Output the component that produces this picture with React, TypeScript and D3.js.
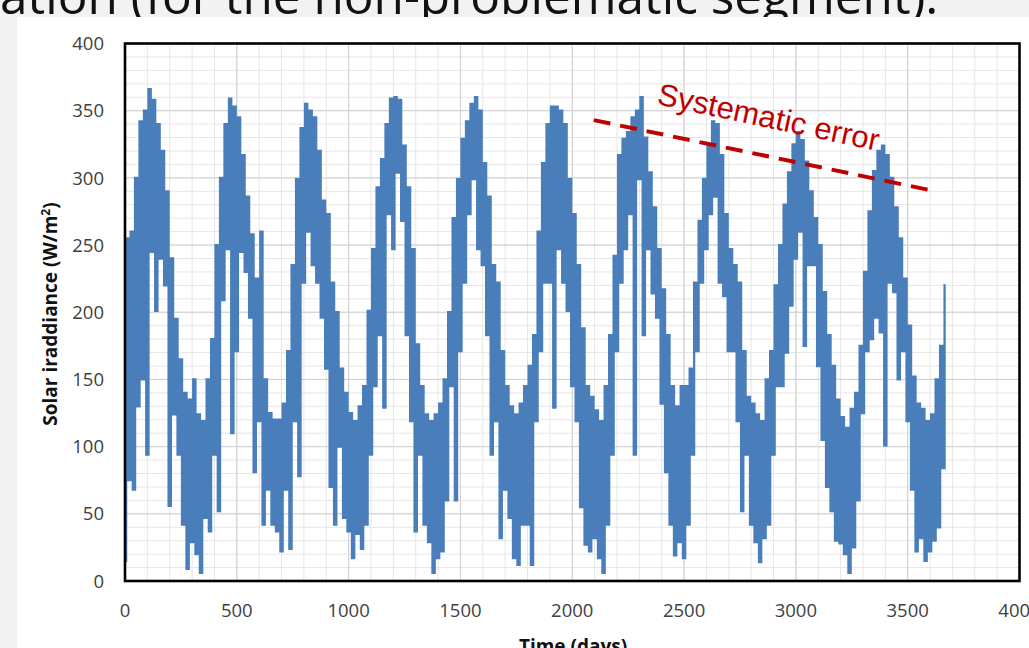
import React from 'react';
import * as d3 from 'd3';

const STEP_DAYS = 10;
// days 0 – 360
const seg01 = [15,255,75,260,68,300,130,342,150,350,94,366,245,358,201,340,240,320,220,290,56,240,124,195,94,165,42,140,9,135,29,150,20,124,6,119,47];
// days 370 – 730
const seg02 = [150,37,180,94,250,52,300,209,340,247,359,110,353,171,345,245,317,230,286,196,258,81,225,119,260,42,150,68,125,42,120,37,120,22,132,68,171];
// days 740 – 1100
const seg03 = [24,235,119,299,78,337,222,355,260,350,235,345,222,320,196,283,158,273,70,222,42,200,100,158,47,140,37,125,17,119,35,130,24,145,42,201,94];
// days 1110 – 1470
const seg04 = [247,145,293,183,314,129,340,273,359,247,360,304,358,268,324,183,293,119,247,37,176,94,145,42,124,29,119,6,124,17,132,22,150,60,200,145,270];
// days 1480 – 1840
const seg05 = [60,299,171,329,222,342,273,355,299,360,247,350,235,311,183,286,94,235,119,222,32,171,68,145,47,130,17,124,12,132,42,145,42,160,12,183,119];
// days 1850 – 2210
const seg06 = [260,171,311,222,340,222,353,129,353,247,350,222,340,201,299,145,273,119,235,55,188,27,145,22,137,32,127,17,119,6,145,42,183,94,242,171,317];
// days 2220 – 2580
const seg07 = [222,329,247,334,273,345,94,350,299,360,183,330,247,304,214,278,196,247,132,217,81,183,42,145,19,130,29,145,17,145,42,158,94,222,171,268,222];
// days 2590 – 2950
const seg08 = [299,247,324,273,342,286,340,222,317,212,273,171,247,171,235,119,222,52,171,94,137,42,132,29,124,14,119,32,150,42,171,94,220,145,250,145,280];
// days 2960 – 3320
const seg09 = [170,304,205,325,240,334,260,328,175,312,235,290,235,270,160,250,105,215,70,183,52,160,30,135,28,122,20,114,6,128,25,140,60,175,125,230,171];
// days 3330 – 3670
const seg10 = [275,180,305,196,320,185,324,101,317,222,300,215,278,150,255,171,225,119,190,68,152,22,132,32,128,15,119,22,124,30,150,40,175,84,220];

const irradiance = [...seg01, ...seg02, ...seg03, ...seg04, ...seg05, ...seg06, ...seg07, ...seg08, ...seg09, ...seg10];

const xTicks = [0, 500, 1000, 1500, 2000, 2500, 3000, 3500, 4000];
const xTickLabels = ['0', '500', '1000', '1500', '2000', '2500', '3000', '3500', '4000'];
const yTicks = [0, 50, 100, 150, 200, 250, 300, 350, 400];
const yTickLabels = ['0', '50', '100', '150', '200', '250', '300', '350', '400'];

// annotation (in data units): trend of the yearly peaks
const errorTrendDays = [2096, 3597];
const errorTrendValues = [343, 291];
const annotationText = 'Systematic error';
const titleText = 'ation (for the non-problematic segment).';
const xTitle = 'Time (days)';

const W = 1029;
const H = 648;

export default function App() {
  const x = d3.scaleLinear().domain([0, 4000]).range([125, 1019.5]);
  const y = d3.scaleLinear().domain([0, 400]).range([581, 43.5]);

  const line = d3
    .line<number>()
    .x((_, i) => x(i * STEP_DAYS))
    .y((v) => y(v))
    .curve(d3.curveStep);

  const xMinor = d3.range(0, 4001, 100);
  const yMinor = d3.range(0, 401, 10);

  const [X0, X1] = x.range();
  const [Y0, Y1] = y.range();

  const ax0 = x(errorTrendDays[0]);
  const ay0 = y(errorTrendValues[0]);
  const ax1 = x(errorTrendDays[1]);
  const ay1 = y(errorTrendValues[1]);

  const font = "'Open Sans', 'Noto Sans', sans-serif";

  return (
    <svg
      width={W}
      height={H}
      viewBox={`0 0 ${W} ${H}`}
      style={{ position: 'absolute', left: 0, top: 0, display: 'block' }}
    >
      <rect x={0} y={0} width={W} height={H} fill="#f2f2f2" />
      <text x={0} y={13.5} fontFamily={font} fontSize={49.5} fill="#111">
        {titleText}
      </text>
      <rect x={17} y={17} width={W - 17} height={H - 17} fill="#ffffff" />

      {/* minor grid */}
      <g stroke="#e6e6e6" strokeWidth={1}>
        {xMinor.map((d) => (
          <line key={'xm' + d} x1={x(d)} x2={x(d)} y1={Y1} y2={Y0} />
        ))}
        {yMinor.map((v) => (
          <line key={'ym' + v} x1={X0} x2={X1} y1={y(v)} y2={y(v)} />
        ))}
      </g>
      {/* major grid */}
      <g stroke="#cfcfcf" strokeWidth={1}>
        {xTicks.map((d) => (
          <line key={'xM' + d} x1={x(d)} x2={x(d)} y1={Y1} y2={Y0} />
        ))}
        {yTicks.map((v) => (
          <line key={'yM' + v} x1={X0} x2={X1} y1={y(v)} y2={y(v)} />
        ))}
      </g>

      <path
        d={line(irradiance) || ''}
        fill="none"
        stroke="#4a7ebb"
        strokeWidth={2.3}
        strokeLinejoin="miter"
      />

      {/* plot border */}
      <rect
        x={X0}
        y={Y1}
        width={X1 - X0}
        height={Y0 - Y1}
        fill="none"
        stroke="#000"
        strokeWidth={2.6}
      />

      {/* tick labels */}
      <g fontFamily={font} fontSize={18.5} fill="#404040">
        {yTicks.map((v, i) => (
          <text key={'yl' + v} x={104} y={y(v)} dy="0.36em" textAnchor="end">
            {yTickLabels[i]}
          </text>
        ))}
        {xTicks.map((d, i) => (
          <text key={'xl' + d} x={x(d)} y={617} textAnchor="middle">
            {xTickLabels[i]}
          </text>
        ))}
      </g>

      {/* axis titles */}
      <text
        transform={`translate(57, 314) rotate(-90)`}
        textAnchor="middle"
        fontFamily={font}
        fontWeight="bold"
        fontSize={19}
        fill="#111"
      >
        Solar iraddiance (W/m<tspan dy="-7" fontSize={12}>2</tspan><tspan dy="7">)</tspan>
      </text>
      <text
        x={573}
        y={652.5}
        textAnchor="middle"
        fontFamily={font}
        fontWeight="bold"
        fontSize={19}
        fill="#111"
      >
        {xTitle}
      </text>

      {/* annotation */}
      <line
        x1={ax0}
        y1={ay0}
        x2={ax1}
        y2={ay1}
        stroke="#c00000"
        strokeWidth={4}
        strokeDasharray="17 10"
      />
      <text
        transform={`translate(656, 104) rotate(12)`}
        fontFamily="'Liberation Sans', Arial, sans-serif"
        fontSize={31}
        fill="#c00000"
      >
        {annotationText}
      </text>
    </svg>
  );
}
